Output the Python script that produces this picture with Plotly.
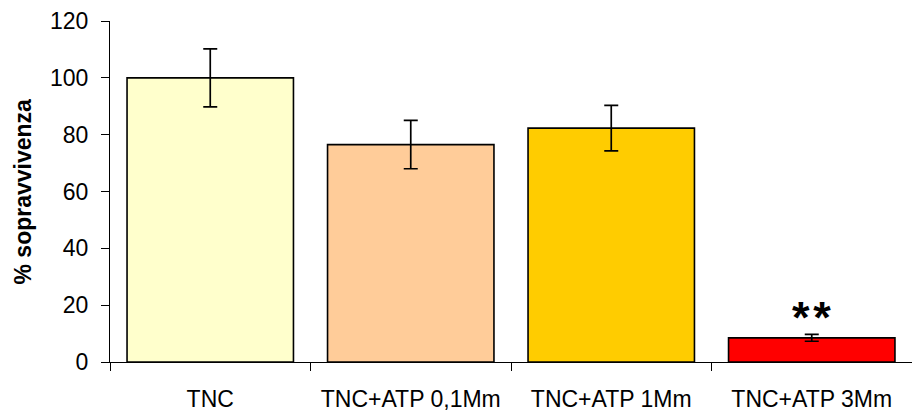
import plotly.graph_objects as go

categories = ["TNC", "TNC+ATP 0,1Mm", "TNC+ATP 1Mm", "TNC+ATP 3Mm"]
survival = [100, 76.5, 82.3, 8.5]
errors = [10.2, 8.5, 8.0, 1.2]
bar_colors = ["#FFFFCC", "#FFCC99", "#FFCC00", "#FF0000"]
y_ticks = [0, 20, 40, 60, 80, 100, 120]
y_title = "% sopravvivenza"
significance = "*\u200a*"
sig_y = 15.5

W, H = 912, 412
ml, mr, mt, mb = 110, 0, 21, 50

fig = go.Figure()
fig.add_trace(go.Bar(
    x=categories, y=survival,
    marker=dict(color=bar_colors, line=dict(color="black", width=1.6)),
    error_y=dict(type="data", array=errors, visible=True, color="black",
                 thickness=1.7, width=7),
    width=0.83,
))

fig.add_annotation(x=categories[3], y=sig_y, text="<b>" + significance + "</b>", showarrow=False,
                   xref="x", yref="y", yanchor="middle",
                   font=dict(family="Liberation Sans", size=45, color="black"))

plot_w = W - ml - mr
fig.add_annotation(x=(22 - ml) / plot_w, y=0.5, xref="paper", yref="paper",
                   text="<b>" + y_title + "</b>", textangle=-90, showarrow=False,
                   xanchor="center", yanchor="middle",
                   font=dict(family="Liberation Sans", size=23, color="black"))

fig.update_layout(
    width=W, height=H,
    margin=dict(l=ml, r=mr, t=mt, b=mb, pad=0),
    paper_bgcolor="white", plot_bgcolor="white",
    showlegend=False,
    font=dict(family="Liberation Sans", color="black", size=23),
    xaxis=dict(
        showline=True, linecolor="black", linewidth=1.2,
        ticks="outside", tickson="boundaries", ticklen=8, tickcolor="black",
        tickwidth=1.2, ticklabelstandoff=16,
        tickfont=dict(family="Liberation Sans", size=23, color="black"),
        showgrid=False, zeroline=False,
    ),
    yaxis=dict(
        range=[0, 120], tickvals=y_ticks,
        showline=True, linecolor="black", linewidth=1.2,
        ticks="outside", ticklen=8, tickcolor="black", tickwidth=1.2,
        ticklabelstandoff=8,
        tickfont=dict(family="Liberation Sans", size=23, color="black"),
        showgrid=False, zeroline=False,
    ),
)

fig.write_html("out.html")
